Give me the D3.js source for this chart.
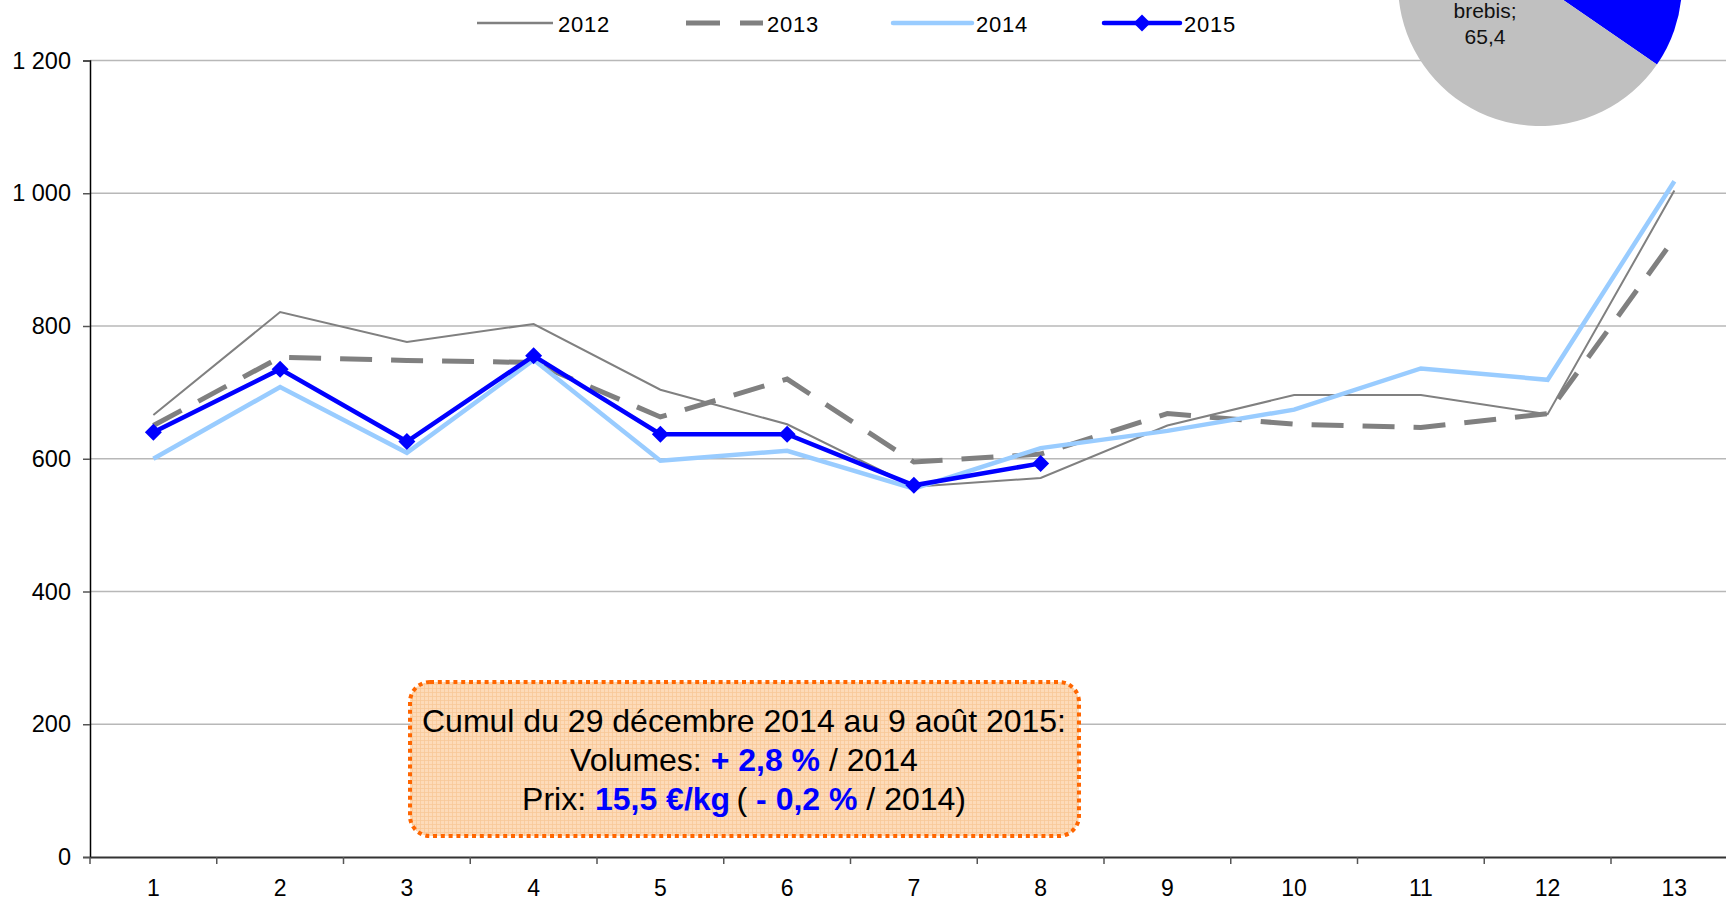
<!DOCTYPE html>
<html>
<head>
<meta charset="utf-8">
<script src="https://cdn.jsdelivr.net/npm/d3@7"></script>
<style>
  body { margin: 0; background: #fff; overflow: hidden; }
  svg { display: block; font-family: "Liberation Sans", Arial, sans-serif; }
</style>
</head>
<body>
<div id="chart"></div>
<script>
// weeks and weekly volumes
const weeks = [1, 2, 3, 4, 5, 6, 7, 8, 9, 10, 11, 12, 13];
const s2012 = [666, 821, 776, 803, 704, 652, 558, 571, 650, 696, 696, 667, 1004];
const s2013 = [650, 753, 748, 745, 663, 720, 595, 607, 668, 652, 647, 668, 932];
const s2014 = [600, 708, 609, 749, 597, 612, 555, 616, 642, 674, 736, 719, 1018];
const s2015 = [640, 735, 626, 755, 637, 637, 560, 593];
const seriesNames = ["2012", "2013", "2014", "2015"];
const yTicks = [0, 200, 400, 600, 800, 1000, 1200];

// small pie in the corner (only the bottom shows)
const pieLabels = ["autre", "brebis"];
const pieValues = [34.6, 65.4];

const W = 1726, H = 904;
const margin = {top: 60.5, left: 90, bottom: 47};
const plotRight = 1737.75; // last band runs past the window edge

const svg = d3.select("#chart").append("svg")
    .attr("width", W)
    .attr("height", H);

const defs = svg.append("defs");
const pat = defs.append("pattern")
    .attr("id", "grid")
    .attr("width", 4).attr("height", 4)
    .attr("patternUnits", "userSpaceOnUse");
pat.append("rect").attr("width", 4).attr("height", 4).attr("fill", "#fddbb9");
pat.append("path").attr("d", "M0,0.5H4M0.5,0V4")
    .attr("stroke", "#f8c898").attr("stroke-width", 0.8);

const x = d3.scaleBand()
    .domain(weeks)
    .range([margin.left, plotRight])
    .padding(0);

const y = d3.scaleLinear()
    .domain([0, 1200])
    .range([H - margin.bottom, margin.top]);

const cx = d => x(d) + x.bandwidth() / 2;

// gridlines
svg.append("g")
    .selectAll("line")
    .data(yTicks.filter(d => d > 0))
    .enter().append("line")
    .attr("x1", margin.left)
    .attr("x2", W)
    .attr("y1", d => y(d))
    .attr("y2", d => y(d))
    .attr("stroke", "#b8b8b8")
    .attr("stroke-width", 1.3);

// pie
const pie = d3.pie().sort(null).value(d => d);
const arc = d3.arc().innerRadius(0).outerRadius(142);
const pieG = svg.append("g").attr("transform", "translate(1540,-16)");
pieG.selectAll("path")
    .data(pie(pieValues))
    .enter().append("path")
    .attr("d", arc)
    .attr("fill", (d, i) => i === 0 ? "#0000ff" : "#c0c0c0");

const brebisLabel = svg.append("text")
    .attr("text-anchor", "middle")
    .attr("font-size", 21)
    .attr("fill", "#111");
brebisLabel.append("tspan").attr("x", 1485).attr("y", 18).text(pieLabels[1] + ";");
brebisLabel.append("tspan").attr("x", 1485).attr("y", 44).text(String(pieValues[1]).replace(".", ","));

// y axis
const yAxis = svg.append("g")
    .attr("transform", `translate(${margin.left},0)`)
    .call(d3.axisLeft(y)
        .tickValues(yTicks)
        .tickSize(7)
        .tickPadding(12)
        .tickFormat(d => d3.format(",")(d).replace(",", " ")));
yAxis.select(".domain").attr("stroke", "#000").attr("stroke-width", 1.5);
yAxis.selectAll(".tick line").attr("stroke", "#555").attr("stroke-width", 1.5);
yAxis.selectAll("text").attr("font-size", 23.5).attr("fill", "#000")
    .attr("font-family", "Liberation Sans, Arial, sans-serif");

// x axis
const xAxis = svg.append("g")
    .attr("transform", `translate(0,${y(0)})`)
    .call(d3.axisBottom(x).tickSize(0).tickSizeOuter(0).tickPadding(23));
xAxis.select(".domain").attr("stroke", "#333").attr("stroke-width", 1.8);
xAxis.selectAll("text").attr("font-size", 23).attr("fill", "#000")
    .attr("font-family", "Liberation Sans, Arial, sans-serif");
xAxis.selectAll(".bound")
    .data(weeks)
    .enter().append("line")
    .attr("class", "bound")
    .attr("x1", d => x(d)).attr("x2", d => x(d))
    .attr("y1", 0).attr("y2", 7)
    .attr("stroke", "#555").attr("stroke-width", 1.5);

// lines
const line = d3.line()
    .x((d, i) => cx(weeks[i]))
    .y(d => y(d));

const styles = [
    {data: s2012, color: "#808080", width: 2, dash: null},
    {data: s2013, color: "#808080", width: 5, dash: "32,19"},
    {data: s2014, color: "#99ccff", width: 4.5, dash: null},
    {data: s2015, color: "#0000ff", width: 4.5, dash: null}
];

styles.forEach(s => {
    svg.append("path")
        .datum(s.data)
        .attr("fill", "none")
        .attr("stroke", s.color)
        .attr("stroke-width", s.width)
        .attr("stroke-dasharray", s.dash)
        .attr("stroke-linejoin", "miter")
        .attr("d", line);
});

const diamond = "M0,-8.5L8.5,0L0,8.5L-8.5,0Z";
svg.append("g")
    .selectAll("path")
    .data(s2015)
    .enter().append("path")
    .attr("d", diamond)
    .attr("transform", (d, i) => `translate(${cx(weeks[i])},${y(d)})`)
    .attr("fill", "#0000ff");

// legend
const legendItems = [
    {x1: 477, x2: 553, tx: 558, dash: null},
    {x1: 686, x2: 763, tx: 767, dash: "34,20"},
    {x1: 893, x2: 972, tx: 976, dash: null},
    {x1: 1104, x2: 1180, tx: 1184, dash: null}
];
const ly = 23;
const legend = svg.append("g");
legendItems.forEach((it, i) => {
    const s = styles[i];
    legend.append("line")
        .attr("x1", it.x1).attr("x2", it.x2)
        .attr("y1", ly).attr("y2", ly)
        .attr("stroke", s.color)
        .attr("stroke-width", i === 0 ? 2.5 : s.width)
        .attr("stroke-linecap", i === 2 || i === 3 ? "round" : "butt")
        .attr("stroke-dasharray", it.dash);
    if (i === 3) {
        legend.append("path")
            .attr("d", diamond)
            .attr("transform", `translate(${(it.x1 + it.x2) / 2},${ly})`)
            .attr("fill", s.color);
    }
    legend.append("text")
        .attr("x", it.tx)
        .attr("y", 31.5)
        .attr("font-size", 22)
        .attr("letter-spacing", 0.8)
        .attr("fill", "#000")
        .text(seriesNames[i]);
});

// annotation box
svg.append("rect")
    .attr("x", 410).attr("y", 682)
    .attr("width", 669).attr("height", 154)
    .attr("rx", 20).attr("ry", 20)
    .attr("fill", "url(#grid)")
    .attr("stroke", "#ff6600")
    .attr("stroke-width", 4)
    .attr("stroke-dasharray", "4,3.8");

const note = svg.append("text")
    .attr("text-anchor", "middle")
    .attr("font-size", 32)
    .attr("fill", "#000");
note.append("tspan").attr("x", 744).attr("y", 732)
    .text("Cumul du 29 décembre 2014 au 9 août 2015:");
const l2 = note.append("tspan").attr("x", 744).attr("y", 771);
l2.append("tspan").text("Volumes: ");
l2.append("tspan").attr("font-weight", "bold").attr("fill", "#0000ff").text("+ 2,8 %");
l2.append("tspan").text(" / 2014");
const l3 = note.append("tspan").attr("x", 744).attr("y", 810);
l3.append("tspan").text("Prix: ");
l3.append("tspan").attr("font-weight", "bold").attr("fill", "#0000ff").text("15,5 €/kg");
l3.append("tspan").text("\u2009( ");
l3.append("tspan").attr("font-weight", "bold").attr("fill", "#0000ff").text("- 0,2 %");
l3.append("tspan").text(" / 2014)");
</script>
</body>
</html>
